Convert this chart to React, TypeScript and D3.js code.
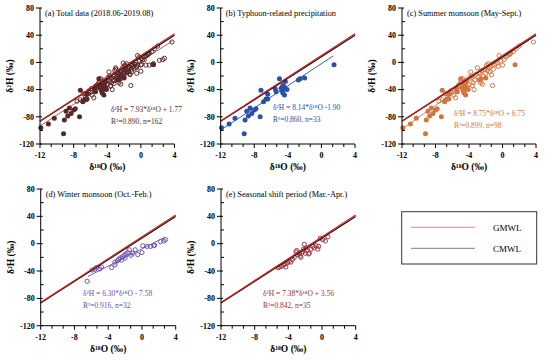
import React from "react";
import * as d3 from "d3";

type Pt = [number, number];

// Typhoon-related precipitation (filled markers)
const typhoonPts: Pt[] = [
  [-11.9, -96], [-11.0, -90.5], [-10.3, -82], [-9.1, -84.6], [-9.2, -105], [-8.9, -72],
  [-8.7, -79], [-8.5, -67], [-8.3, -75], [-8.0, -70], [-7.3, -80], [-7.2, -41],
  [-6.9, -58], [-6.6, -54], [-6.4, -54], [-6.4, -47], [-5.5, -39], [-5.4, -43],
  [-5.0, -24], [-4.8, -38], [-4.7, -41], [-4.6, -34], [-4.5, -39], [-4.4, -48],
  [-4.4, -36], [-4.3, -28], [-4.1, -40], [-2.75, -26], [-2.55, -24], [-2.0, -23],
  [1.5, -3.5], [-4.6, -45], [-7.8, -68],
];

// Summer monsoon, non-typhoon (open markers)
const summerPts: Pt[] = [
  [-7.6, -57], [-7.2, -55], [-6.9, -57], [-6.6, -50], [-6.3, -46], [-6.2, -42], [-6.0, -44],
  [-5.8, -48], [-5.5, -38], [-5.3, -35], [-5.2, -33], [-5.0, -30], [-4.9, -28], [-4.7, -40],
  [-4.6, -44], [-4.5, -31], [-4.4, -26], [-4.2, -36], [-4.0, -33], [-3.9, -22], [-3.7, -20],
  [-3.6, -34], [-3.5, -30], [-3.3, -26], [-3.2, -18], [-3.0, -8], [-2.9, -22], [-2.7, -16],
  [-2.5, -12], [-2.4, -32], [-2.3, -20], [-2.1, -10], [-2.0, -16], [-1.9, -4], [-1.8, -12],
  [-1.6, -8], [-1.5, -14], [-1.4, -6], [-1.3, -18], [-1.2, -34], [-1.1, -10], [-1.0, -4],
  [-0.8, -2], [-0.6, 0], [-0.5, -6], [-0.4, 10], [-0.2, 2], [0.0, -4], [0.2, 4], [0.4, 8],
  [0.6, 10], [0.8, 12], [1.0, 14], [1.3, 16], [1.6, 20], [2.0, 24], [3.7, 30], [-5.6, -52],
  [-6.8, -46], [-3.8, -14], [-2.6, -30], [-4.8, -24], [-3.4, -40], [-1.7, -2], [0.9, 12],
];

// Winter monsoon
const winterPts: Pt[] = [
  [-6.5, -55], [-5.9, -38.5], [-5.6, -37.6], [-5.4, -35], [-5.0, -37], [-4.8, -34],
  [-3.6, -35], [-3.2, -27], [-2.9, -25], [-2.75, -23], [-2.6, -21], [-2.4, -24],
  [-2.3, -19], [-2.1, -17], [-2.0, -21], [-1.9, -15], [-1.7, -13], [-1.5, -9],
  [-1.3, -17], [-1.1, -14], [-0.8, -9], [-0.5, -16], [0.0, -13], [0.1, -3],
  [0.6, -4], [1.0, -4], [1.4, -3], [1.5, -2], [2.2, 3], [2.6, 4], [2.8, 6], [-3.2, -31],
];

// Seasonal shift period
const shiftPts: Pt[] = [
  [-5.2, -35], [-5.0, -34], [-4.8, -33], [-4.6, -31], [-4.4, -30], [-4.3, -34], [-4.1, -28],
  [-3.9, -26], [-3.7, -27], [-3.5, -23], [-3.3, -20], [-3.1, -12], [-3.0, -10], [-2.9, -16],
  [-2.7, -14], [-2.6, -18], [-2.5, -20], [-2.3, -12], [-2.2, -8], [-2.1, -1], [-2.0, -14],
  [-1.9, -6], [-1.8, -10], [-1.6, -15], [-1.5, -14], [-1.3, -8], [-1.1, -4], [-0.9, -6],
  [-0.7, -3], [-0.5, -8], [-0.4, -4], [-0.2, 8], [0.1, 6], [0.4, 4], [0.7, 10],
];

const xTicks = [-12, -8, -4, 0, 4];
const yTicks = [80, 40, 0, -40, -80, -120];

const gmwl = { slope: 8, intercept: 10 };
const cmwl = { slope: 7.9, intercept: 8.2 };

const panelTitles = [
  "(a) Total data (2018.06-2019.08)",
  "(b) Typhoon-related precipitation",
  "(c) Summer monsoon (May-Sept.)",
  "(d) Winter monsoon (Oct.-Feb.)",
  "(e) Seasonal shift period (Mar.-Apr.)",
];
const slopes = [7.93, 8.14, 8.75, 6.3, 7.38];
const intercepts = [1.77, -1.9, 6.75, -7.58, 3.56];
const eqTexts = [
  "δ²H = 7.93*δ¹⁸O + 1.77",
  "δ²H = 8.14*δ¹⁸O -1.90",
  "δ²H = 8.75*δ¹⁸O + 6.75",
  "δ²H = 6.30*δ¹⁸O - 7.58",
  "δ²H = 7.38*δ¹⁸O + 3.56",
];
const statTexts = [
  "R²=0.890, n=162",
  "R²=0.860, n=33",
  "R²=0.899, n=98",
  "R²=0.916, n=32",
  "R²=0.842, n=35",
];
const fitRanges: [number, number][] = [[-12, 3.7], [-12, 1.4], [-12, 3.7], [-6.4, 2.7], [-5.2, 0.7]];

const FONT = "'Liberation Serif', 'Times New Roman', serif";

interface PanelProps {
  x0: number; y0: number; w: number; h: number;
  idx: number; color: string; lineColor: string;
  filled: Pt[]; open: Pt[]; eqX: number; eqY: number;
}

function Panel({ x0, y0, w, h, idx, color, lineColor, filled, open, eqX, eqY }: PanelProps) {
  const x = d3.scaleLinear().domain([-12, 4]).range([x0, x0 + w]);
  const y = d3.scaleLinear().domain([-120, 80]).range([y0 + h, y0]);
  const mk = (s: number, b: number, r: [number, number]) =>
    d3.line<number>().x((v) => x(v)).y((v) => y(s * v + b))(r) || "";
  const xMinor = d3.range(-12, 4.001, 4 / 3);
  const yMinor = d3.range(-100, 80, 40);
  return (
    <g fontFamily={FONT}>
      <path d={mk(slopes[idx], intercepts[idx], fitRanges[idx])} stroke={lineColor} strokeWidth={0.9} fill="none" />
      {open.map((p, i) => (
        <circle key={"o" + i} cx={x(p[0])} cy={y(p[1])} r={2.1} fill="none" stroke={color} strokeWidth={0.95} />
      ))}
      {filled.map((p, i) => (
        <circle key={"f" + i} cx={x(p[0])} cy={y(p[1])} r={2.5} fill={color} />
      ))}
      <path d={mk(cmwl.slope, cmwl.intercept, [-12, 4])} stroke="#111" strokeWidth={1.2} fill="none" />
      <path d={mk(gmwl.slope, gmwl.intercept, [-12, 4])} stroke="#d11e1e" strokeWidth={1.2} fill="none" />
      <line x1={x0} x2={x0} y1={y0} y2={y0 + h} stroke="#000" strokeWidth={1} />
      <line x1={x0} x2={x0 + w} y1={y0 + h} y2={y0 + h} stroke="#000" strokeWidth={1} />
      {yTicks.map((t) => (
        <g key={"yt" + t}>
          <line x1={x0 - 4} x2={x0 + 2} y1={y(t)} y2={y(t)} stroke="#000" strokeWidth={1} />
          <text x={x0 - 6} y={y(t) + 2.8} fontSize={8} fontWeight="bold" textAnchor="end">{t}</text>
        </g>
      ))}
      {yMinor.map((t) => (
        <line key={"ym" + t} x1={x0} x2={x0 + 3} y1={y(t)} y2={y(t)} stroke="#000" strokeWidth={1} />
      ))}
      {xMinor.map((t, i) => (
        <line key={"xm" + i} x1={x(t)} x2={x(t)} y1={y0 + h} y2={y0 + h + (i % 3 === 0 ? 4 : 3)} stroke="#000" strokeWidth={1} />
      ))}
      {xTicks.map((t) => (
        <text key={"xt" + t} x={x(t)} y={y0 + h + 14} fontSize={8} fontWeight="bold" textAnchor="middle">{t}</text>
      ))}
      <text x={x0 + w / 2} y={y0 + h + 26} fontSize={9.5} fontWeight="bold" textAnchor="middle">δ¹⁸O (‰)</text>
      <text transform={`translate(${x0 - 27},${y0 + h / 2}) rotate(-90)`} fontSize={9.5} fontWeight="bold" textAnchor="middle">δ²H (‰)</text>
      <text x={x0 + 5} y={y0 + 8} fontSize={8.3}>{panelTitles[idx]}</text>
      <text x={eqX} y={eqY} fontSize={7.5} fill={color}>{eqTexts[idx]}</text>
      <text x={eqX} y={eqY + 12} fontSize={7.5} fill={color}>{statTexts[idx]}</text>
    </g>
  );
}

export default function App() {
  const allOpen = [...summerPts, ...winterPts, ...shiftPts];
  return (
    <svg width={554} height={361} style={{ position: "absolute", left: 0, top: 0, background: "#fff" }}>
      <rect width={554} height={361} fill="#fff" />
      <Panel x0={40} y0={8} w={134.5} h={136} idx={0} color="#5a2828" lineColor="#8a5a5a" filled={typhoonPts} open={allOpen} eqX={111} eqY={112} />
      <Panel x0={220.7} y0={8} w={134.3} h={136} idx={1} color="#2b4ea6" lineColor="#2b4ea6" filled={typhoonPts} open={[]} eqX={273} eqY={110} />
      <Panel x0={402} y0={8} w={134} h={136} idx={2} color="#d2743e" lineColor="#d2743e" filled={typhoonPts} open={summerPts} eqX={454} eqY={116} />
      <Panel x0={40.7} y0={189} w={135} h={136.7} idx={3} color="#6a4cb2" lineColor="#6a4cb2" filled={[]} open={winterPts} eqX={83} eqY={296} />
      <Panel x0={221} y0={189} w={134.7} h={136.7} idx={4} color="#96303e" lineColor="#f2e0e0" filled={[]} open={shiftPts} eqX={263} eqY={296} />
      <g fontFamily={FONT}>
        <rect x={401.7} y={211.7} width={135} height={52.3} fill="none" stroke="#333" strokeWidth={1} />
        <line x1={411} x2={475} y1={227.3} y2={227.3} stroke="#f09a9a" strokeWidth={1.3} />
        <line x1={411} x2={475} y1={248.3} y2={248.3} stroke="#999" strokeWidth={1.3} />
        <text x={493} y={230.5} fontSize={9}>GMWL</text>
        <text x={493} y={251.5} fontSize={9}>CMWL</text>
      </g>
    </svg>
  );
}
